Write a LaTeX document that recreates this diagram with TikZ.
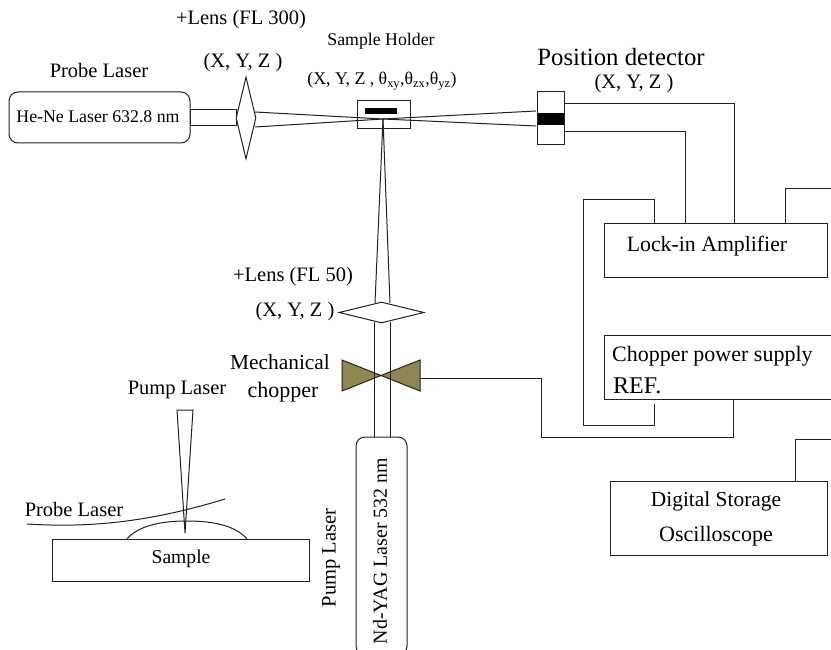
\documentclass[tikz,border=0pt]{standalone}
\usepackage{fontspec}
\setmainfont{Liberation Serif}
\usetikzlibrary{shapes.geometric}
\definecolor{chopolive}{HTML}{8F8753}
\definecolor{inkline}{HTML}{222222}
\tikzset{
  box/.style={draw=inkline,line width=1pt,fill=white,inner sep=0pt},
  lens/.style={draw=inkline,diamond,line width=1pt,fill=white,inner sep=0pt},
  wire/.style={draw=inkline,line width=1pt},
  beam/.style={draw=inkline,line width=1pt},
  lab/.style={inner sep=0pt,font=\fontsize{20.5}{24}\selectfont},
  smalllab/.style={inner sep=0pt,font=\fontsize{17.8}{21}\selectfont}
}
\begin{document}
\begin{tikzpicture}[x=1pt,y=-1pt]
  \useasboundingbox (0,0) rectangle (831,650);
  \coordinate (cross) at (383,119);
  \coordinate (chop) at (381,375.5);
  % upper row
  \node[box,rounded corners=9pt,minimum width=181,minimum height=51] (hene) at (99.5,117.5) {};
  \node[smalllab] (henetext) at (98,117) {He-Ne Laser 632.8 nm};
  \node[box,minimum width=46,minimum height=16] (tube) at (213,118) {};
  \node[lens,minimum width=20,minimum height=82] (lens1) at (246,118) {};
  \node[box,minimum width=53,minimum height=28] (holder) at (383.5,115) {};
  \node[fill=black,minimum width=32,minimum height=6,inner sep=0pt] (film) at (381,111) {};
  \node[box,minimum width=27,minimum height=53] (detector) at (550.5,118.5) {};
  \node[fill=black,minimum width=26,minimum height=12,inner sep=0pt] (cell) at (551,119) {};
  \draw[beam] (255,112) to (cross) to (536,126);
  \draw[beam] (255,127) to (cross) to (536,111);
  \draw[beam] (375,303) to (cross);
  \draw[beam] (390,303) to (cross);
  % lower column
  \fill[chopolive,draw=inkline,line width=1pt] (342,360) -- (chop) -- (342,391) -- cycle;
  \fill[chopolive,draw=inkline,line width=1pt] (420,360) -- (chop) -- (420,391) -- cycle;
  \draw[beam] (374,322) to (374,437);
  \draw[beam] (390,322) to (390,437);
  \node[lens,minimum width=85,minimum height=21] (lens2) at (381.5,312.5) {};
  \node[box,rounded corners=9pt,minimum width=51,minimum height=218] (yag) at (381.5,546) {};
  \node[smalllab,font=\fontsize{19.9}{24}\selectfont,rotate=90] (yagtext) at (380,551) {Nd-YAG Laser 532 nm};
  % electronics
  \node[box,minimum width=223,minimum height=53] (lockin) at (715.5,250.5) {};
  \node[box,minimum width=227,minimum height=64] (supply) at (717.5,367) {};
  \node[box,minimum width=217,minimum height=74] (scope) at (718.5,518) {};
  \coordinate (rightA) at (831,189);
  \coordinate (rightB) at (831,439);
  \draw[wire] (detector.east |- 0,104) -- (734,104) -- (lockin.north -| 734,0);
  \draw[wire] (detector.east |- 0,132) -- (685,132) -- (lockin.north -| 685,0);
  \draw[wire] (lockin.north -| 654,0) -- (654,200) -- (583,200) -- (583,425) -- (654,425) -- (654,404);
  \draw[wire] (lockin.north -| 785,0) -- (785,189) -- (rightA);
  \draw[wire] (supply.south -| 733,0) -- (733,437) -- (541,437) -- (541,378) -- (420,378);
  \draw[wire] (scope.north -| 795,0) -- (795,439) -- (rightB);
  % sample sketch
  \node[box,minimum width=257,minimum height=42] (sample) at (180.5,560) {};
  \node[smalllab,font=\fontsize{19.6}{24}\selectfont] (sampletext) at (181,559) {Sample};
  \draw[beam] (127,539) .. controls (138,526) and (160,521) .. (187,521) .. controls (214,521) and (236,526) .. (247,539);
  \draw[beam] (177,410) -- (193,410) -- (185,533) -- cycle;
  \draw[beam] (27,524) .. controls (90,528) and (150,522) .. (225,499);
  % labels
  \node[lab] (l1) at (99,70) {Probe Laser};
  \node[lab] (l2) at (241,20) {+Lens (FL 300)};
  \node[lab] (l3) at (243,63) {(X, Y, Z )};
  \node[smalllab] (l4) at (381,41) {Sample Holder};
  \node[smalllab] (l5) at (382,81) {(X, Y, Z , θ\textsubscript{xy},θ\textsubscript{zx},θ\textsubscript{yz})};
  \node[lab,font=\fontsize{24.8}{29}\selectfont] (l6) at (621,57) {Position detector};
  \node[lab] (l7) at (634,84) {(X, Y, Z )};
  \node[lab,font=\fontsize{21.8}{26}\selectfont] (l8) at (707,246) {Lock-in Amplifier};
  \node[lab,anchor=west,font=\fontsize{22}{26}\selectfont] (l9) at (612,356) {Chopper power supply};
  \node[lab,anchor=west,font=\fontsize{24}{28}\selectfont] (l10) at (613,386) {REF.};
  \node[lab,font=\fontsize{21.4}{26}\selectfont] (l11) at (716,501) {Digital Storage};
  \node[lab,font=\fontsize{22}{26}\selectfont] (l12) at (716,536) {Oscilloscope};
  \node[lab] (l13) at (293,277) {+Lens (FL 50)};
  \node[lab] (l14) at (295,312) {(X, Y, Z )};
  \node[lab,font=\fontsize{21.4}{26}\selectfont] (l15) at (280,362) {Mechanical};
  \node[lab,font=\fontsize{22}{26}\selectfont] (l16) at (283,392) {chopper};
  \node[lab] (l17) at (177,390) {Pump Laser};
  \node[lab] (l18) at (74,509) {Probe Laser};
  \node[lab,rotate=90] (l19) at (331,558) {Pump Laser};
\end{tikzpicture}
\end{document}
